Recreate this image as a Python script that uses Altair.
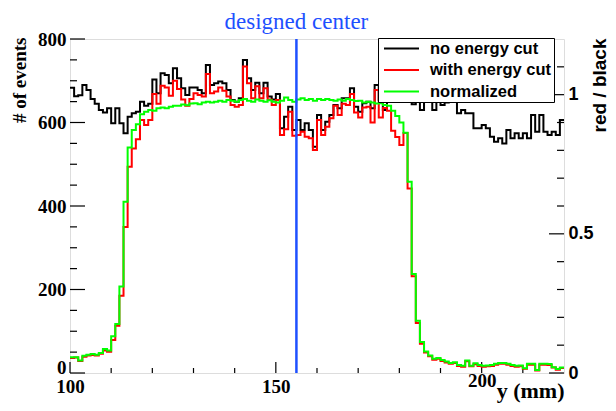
import altair as alt
import pandas as pd

# ---------------- data ----------------
bin_lo, bin_hi = 100, 220          # histogram range (mm), 1 mm bins
series_names = ["no energy cut", "with energy cut", "normalized"]
series_colors = ["#000000", "#ff0000", "#00ff00"]

black = [
    683, 663, 665, 690, 678, 656, 645, 630, 624, 634,
    598, 634, 598, 574, 614, 622, 626, 650, 640, 645,
    703, 670, 718, 714, 694, 730, 706, 682, 666, 684,
    684, 678, 670, 738, 690, 694, 698, 694, 678, 654,
    650, 658, 750, 706, 678, 695, 670, 695, 662, 655,
    668, 586, 614, 638, 582, 606, 582, 598, 582, 542,
    618, 582, 602, 618, 642, 634, 658, 658, 682, 638,
    626, 646, 650, 634, 690, 654, 630, 654, 650, 662,
    650, 654, 654, 644, 654, 630, 654, 654, 630, 654,
    642, 648, 660, 655, 622, 630, 622, 622, 586, 586,
    594, 586, 566, 554, 562, 550, 582, 562, 574, 562,
    574, 562, 618, 578, 618, 578, 570, 578, 570, 606,
]
red = [
    36, 37, 29, 39, 42, 43, 42, 46, 54, 51,
    79, 113, 185, 350, 494, 538, 560, 606, 594, 606,
    668, 645, 688, 684, 664, 700, 680, 655, 640, 656,
    670, 666, 662, 716, 670, 674, 684, 676, 662, 642,
    638, 642, 734, 694, 658, 687, 658, 682, 655, 642,
    654, 570, 584, 626, 568, 570, 578, 566, 562, 534,
    606, 570, 590, 610, 640, 618, 645, 642, 668, 624,
    612, 636, 638, 600, 678, 612, 635, 628, 580, 565,
    546, 575, 442, 232, 120, 70, 49, 40, 32, 34,
    29, 25, 22, 24, 17, 15, 28, 16, 21, 17,
    15, 16, 17, 20, 22, 22, 20, 17, 15, 16,
    10, 20, 20, 6, 20, 20, 19, 13, 8, 12,
]
green_ratio = [
    0.057, 0.057, 0.045, 0.062, 0.066, 0.068, 0.066, 0.072, 0.086, 0.081,
    0.132, 0.176, 0.311, 0.615, 0.810, 0.873, 0.894, 0.930, 0.939, 0.945,
    0.942, 0.951, 0.954, 0.951, 0.957, 0.960, 0.960, 0.965, 0.962, 0.968,
    0.969, 0.966, 0.972, 0.975, 0.972, 0.975, 0.978, 0.975, 0.981, 0.978,
    0.975, 0.981, 0.984, 0.978, 0.975, 0.983, 0.978, 0.975, 0.980, 0.975,
    0.972, 0.978, 0.990, 0.981, 0.975, 0.983, 0.987, 0.981, 0.984, 0.978,
    0.984, 0.981, 0.984, 0.981, 0.978, 0.983, 0.978, 0.984, 0.981, 0.977,
    0.978, 0.972, 0.975, 0.972, 0.968, 0.969, 0.963, 0.960, 0.942, 0.923,
    0.900, 0.863, 0.687, 0.356, 0.188, 0.111, 0.077, 0.063, 0.051, 0.054,
    0.047, 0.041, 0.036, 0.039, 0.029, 0.026, 0.045, 0.026, 0.035, 0.029,
    0.026, 0.027, 0.029, 0.033, 0.036, 0.036, 0.033, 0.029, 0.026, 0.027,
    0.017, 0.033, 0.033, 0.011, 0.033, 0.033, 0.032, 0.021, 0.014, 0.020,
]

designed_center = [155]
center_label = ["designed center"]

x_label_values = [100, 150, 200]
x_minor_ticks = [110, 120, 130, 140, 160, 170, 180, 190, 210]
left_label_values = [0, 200, 400, 600, 800]
left_minor_ticks = [50, 100, 150, 250, 300, 350, 450, 500, 550, 650, 700, 750]
right_label_values = [0, 0.5, 1]
right_minor_ticks = [0.1, 0.2, 0.3, 0.4, 0.6, 0.7, 0.8, 0.9, 1.1]

W, H = 494, 334

# ---------------- tables ----------------
def step_table(vals, name):
    edges = list(range(bin_lo, bin_hi + 1))
    ys = list(vals) + [vals[-1]]
    return pd.DataFrame({"x": edges, "v": ys, "series": name})

df_black = step_table(black, series_names[0])
df_red = step_table(red, series_names[1])
df_green = step_table(green_ratio, series_names[2])

serif = "Liberation Serif"
sans = "Liberation Sans"

x_scale = alt.Scale(domain=[bin_lo, bin_hi], nice=False, zero=False)
yl_scale = alt.Scale(domain=[0, 800], nice=False)
yr_scale = alt.Scale(domain=[0, 1.2], nice=False)

x_axis = alt.Axis(values=x_label_values, ticks=False, domain=False, grid=False,
                  labelFlush=False, labelOverlap=False,
                  labelFont=serif, labelFontWeight="bold", labelFontSize=19,
                  labelColor="black",
                  labelPadding={"condition": {"test": "datum.value == 200", "value": -2},
                                "value": 4},
                  title="y (mm)",
                  titleFont=serif, titleFontWeight="bold", titleFontSize=22,
                  titleColor="black", titleAlign="right", titleBaseline="alphabetic",
                  titleX=W, titleY=24, titleAnchor="end")
yl_axis = alt.Axis(orient="left", values=left_label_values, ticks=False, domain=False,
                   grid=False, labelFlush=False, labelOverlap=False,
                   labelFont=serif, labelFontWeight="bold", labelFontSize=19,
                   labelColor="black", labelPadding=4,
                   labelOffset={"condition": {"test": "datum.value == 0", "value": -6},
                                "value": 0},
                   title="# of events",
                   titleFont=serif, titleFontWeight="bold", titleFontSize=19,
                   titleColor="black", titleAngle=270, titleAlign="right",
                   titleBaseline="alphabetic", titleX=-45, titleY=-2)
yr_axis = alt.Axis(orient="right", values=right_label_values, format=".1~f",
                   ticks=False, domain=False, grid=False, labelFlush=False,
                   labelOverlap=False, labelFont=sans,
                   labelFontWeight="bold", labelFontSize=18, labelColor="black",
                   labelPadding=4, title="red / black", titleFont=sans,
                   titleFontWeight="bold", titleFontSize=19, titleColor="black",
                   titleAngle=270, titleAlign="right", titleBaseline="alphabetic",
                   titleX=41, titleY=-1)

legend = alt.Legend(title=None, orient="none", legendX=308, legendY=-1,
                    direction="vertical", symbolType="stroke", symbolSize=1225,
                    symbolStrokeWidth=2, symbolOffset=3, clipHeight=17,
                    labelFont=sans, labelFontWeight="bold", labelFontSize=16.5,
                    labelColor="black", labelOffset=10, padding=2, rowPadding=4.5,
                    fillColor="white", strokeColor="black")
color = alt.Color("series:N", scale=alt.Scale(domain=series_names, range=series_colors),
                  legend=legend)

X = alt.X("x:Q", scale=x_scale, axis=x_axis)
YL = alt.Y("v:Q", scale=yl_scale, axis=yl_axis)
YR = alt.Y("v:Q", scale=yr_scale, axis=yr_axis)

black_line = alt.Chart(df_black).mark_line(interpolate="step-after", strokeWidth=2).encode(
    x=X, y=YL, color=color)
red_line = alt.Chart(df_red).mark_line(interpolate="step-after", strokeWidth=2).encode(
    x=X, y=YL, color=color)
green_line = alt.Chart(df_green).mark_line(interpolate="step-after", strokeWidth=2).encode(
    x=X, y=YR, color=color)

def tick_df(vals):
    return pd.DataFrame({"v": vals})

XT = alt.X("v:Q", scale=x_scale, axis=x_axis)

left_major = alt.Chart(tick_df(left_label_values)).mark_rule(color="black", strokeWidth=1.2).encode(
    y=YL, x=alt.value(0), x2=alt.value(15))
left_minor = alt.Chart(tick_df(left_minor_ticks)).mark_rule(color="black", strokeWidth=1.2).encode(
    y=YL, x=alt.value(0), x2=alt.value(7))
bottom_major = alt.Chart(tick_df(x_label_values)).mark_rule(color="black", strokeWidth=1.2).encode(
    x=XT, y=alt.value(H), y2=alt.value(H - 11))
bottom_minor = alt.Chart(tick_df(x_minor_ticks)).mark_rule(color="black", strokeWidth=1.2).encode(
    x=XT, y=alt.value(H), y2=alt.value(H - 5))
right_major = alt.Chart(tick_df(right_label_values)).mark_rule(color="black", strokeWidth=1.2).encode(
    y=YR, x=alt.value(W - 15), x2=alt.value(W))
right_minor = alt.Chart(tick_df(right_minor_ticks)).mark_rule(color="black", strokeWidth=1.2).encode(
    y=YR, x=alt.value(W - 7), x2=alt.value(W))

df_center = pd.DataFrame({"x": designed_center, "label": center_label})
center_rule = alt.Chart(df_center).mark_rule(color="#1e50ff", strokeWidth=2.5).encode(x=X)
center_text = alt.Chart(df_center).mark_text(
    font=serif, fontSize=23, color="#1e50ff", baseline="alphabetic", align="center"
).encode(x=X, y=alt.value(-10), text="label:N")

left_group = alt.layer(left_major, left_minor, bottom_major, bottom_minor, black_line, red_line)
right_group = alt.layer(right_major, right_minor, green_line, center_rule, center_text)

chart = alt.layer(left_group, right_group).resolve_scale(y="independent").properties(
    width=W, height=H,
    autosize=alt.AutoSizeParams(type="none"),
    padding={"left": 62, "top": 31, "right": 44, "bottom": 30},
).configure_view(stroke="black", strokeWidth=2).configure(background="white")

chart.save("out.html", embed_options={"renderer": "svg", "actions": False})
